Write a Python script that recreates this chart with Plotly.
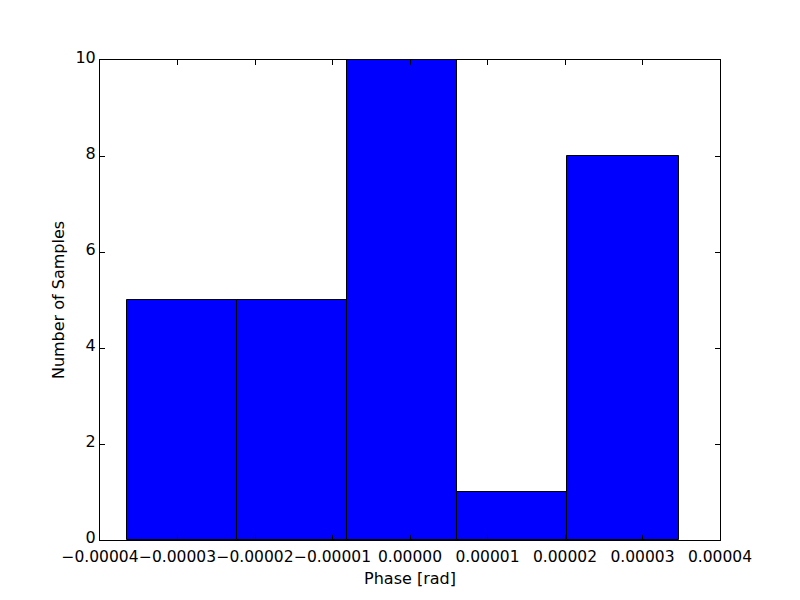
import plotly.graph_objects as go

bin_edges = [-3.655e-5, -2.232e-5, -0.813e-5, 0.610e-5, 2.026e-5, 3.467e-5]
counts = [5, 5, 10, 1, 8]
x_ticks = [-4e-5, -3e-5, -2e-5, -1e-5, 0, 1e-5, 2e-5, 3e-5, 4e-5]
y_ticks = [0, 2, 4, 6, 8, 10]

centers = [(a + b) / 2 for a, b in zip(bin_edges[:-1], bin_edges[1:])]
widths = [b - a for a, b in zip(bin_edges[:-1], bin_edges[1:])]

fig = go.Figure(go.Bar(
    x=centers, y=counts, width=widths,
    marker=dict(color="#0000ff", line=dict(color="black", width=1)),
))

font = dict(family="DejaVu Sans", size=16, color="black")
fig.update_layout(
    width=800, height=600,
    margin=dict(l=92, r=88, t=52, b=68),
    paper_bgcolor="white", plot_bgcolor="white",
    font=font, showlegend=False, bargap=0,
)
fig.update_xaxes(
    range=[-4e-5, 4e-5], tickvals=x_ticks, tickformat=".5f", tickangle=0,
    ticks="inside", ticklen=5, tickcolor="black", mirror="ticks",
    showline=True, linecolor="black", linewidth=1, showgrid=False, zeroline=False,
    tickfont=dict(family="DejaVu Sans", size=15.5, color="black"),
    ticklabelstandoff=2,
    title=dict(text="Phase [rad]", font=font, standoff=8),
)
fig.update_yaxes(
    range=[0, 10], tickvals=y_ticks,
    ticks="inside", ticklen=5, tickcolor="black", mirror="ticks",
    showline=True, linecolor="black", linewidth=1, showgrid=False, zeroline=False,
    ticklabelshift=-3,
    title=dict(text="Number of Samples", font=font, standoff=6),
)
fig.write_html("out.html")
